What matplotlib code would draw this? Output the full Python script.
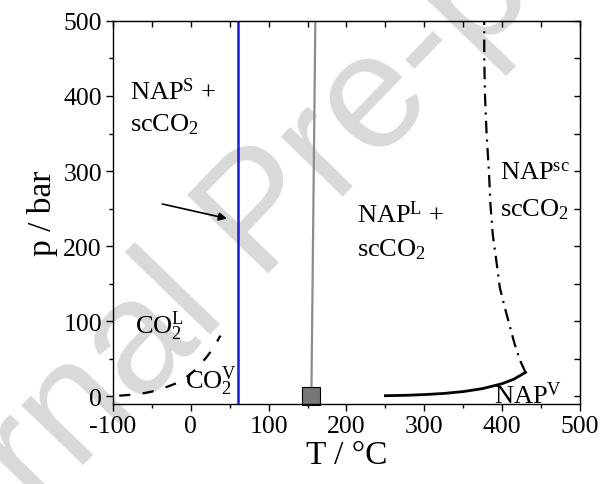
import numpy as np
import matplotlib
matplotlib.use("Agg")
import matplotlib.pyplot as plt

plt.rcParams['font.family'] = ['Liberation Serif', 'DejaVu Serif']
plt.rcParams['mathtext.fontset'] = 'custom'
plt.rcParams['mathtext.rm'] = 'Liberation Serif'
plt.rcParams['mathtext.it'] = 'Liberation Serif:italic'
plt.rcParams['lines.scale_dashes'] = False
plt.rcParams['axes.unicode_minus'] = False

# CO2 vapour pressure curve (dashed)
co2_T = [-92, -80, -70, -60, -50, -40, -30, -20, -10, 0, 10, 20, 30, 38]
co2_p = [1, 2, 3, 4.5, 6.5, 9.5, 13, 17, 23, 30, 40, 52, 66, 81]

# NAP vapour pressure curve (solid)
nap_T = [250, 275, 300, 325, 350, 375, 400, 415, 430]
nap_p = [1, 1.5, 2.5, 4, 6.5, 10.5, 17, 23, 32]

# critical curve (dash-dot)
crit_T = [430, 423, 416, 410, 403, 397, 392, 388, 385, 383, 380, 378, 377, 377]
crit_p = [32, 48, 70, 93, 120, 145, 185, 215, 255, 300, 350, 400, 450, 500]

# melting line of NAP (grey) and process temperature (blue)
melt_T = [155, 160]
melt_p = [10, 500]
proc_T = 60
tp_T, tp_p = 154, 1

fig = plt.figure(figsize=(6.01, 4.85), dpi=100)
ax = fig.add_axes([0.188, 0.165, 0.777, 0.79])
ax.patch.set_alpha(0)

# watermark
fig.text(0.49, 0.49, 'Journal Pre-proof', fontsize=118, color='#d9d9d9',
         family='Liberation Sans', rotation=46, ha='center', va='baseline',
         rotation_mode='anchor', zorder=-1)

ax.plot(co2_T, co2_p, color='black', lw=1.6, dashes=(8, 9))
ax.plot(nap_T, nap_p, color='black', lw=2)
ax.plot(crit_T, crit_p, color='black', lw=1.6, dashes=(9, 4.5, 1.5, 4.5))
ax.axvline(proc_T, color='#1a1ad0', lw=1.8)
ax.plot(melt_T, melt_p, color='#8c8c8c', lw=1.6)
ax.plot(tp_T, tp_p, marker='s', ms=12.5, mfc='#777777', mec='black',
        mew=0.8, clip_on=False)

ax.annotate('', xy=(50, 236), xytext=(-40, 257),
            arrowprops=dict(arrowstyle='-|>', color='black', lw=1.2,
                            mutation_scale=12))

fs = 19
ax.text(-78, 396, r'NAP$^{\mathrm{S}}$ +', fontsize=fs)
ax.text(-78, 354, r'scCO$_2$', fontsize=fs)
ax.text(213, 233, r'NAP$^{\mathrm{L}}$ +', fontsize=fs)
ax.text(213, 188, r'scCO$_2$', fontsize=fs)
ax.text(397, 290, r'NAP$^{\mathrm{sc}}$', fontsize=fs)
ax.text(397, 241, r'scCO$_2$', fontsize=fs)
ax.text(-72, 84, r'CO$_2^{\mathrm{L}}$', fontsize=fs)
ax.text(-8, 11, r'CO$_2^{\mathrm{V}}$', fontsize=fs)
ax.text(390, -8, r'NAP$^{\mathrm{V}}$', fontsize=fs)

ax.set_xlim(-100, 500)
ax.set_ylim(-10, 500)
ax.set_xticks(np.arange(-100, 501, 100))
ax.set_xticks(np.arange(-50, 500, 100), minor=True)
ax.set_yticks(np.arange(0, 501, 100))
ax.set_yticks(np.arange(50, 500, 100), minor=True)
ax.tick_params(which='major', length=5, width=1, labelsize=18.5, pad=3)
ax.tick_params(which='minor', length=3, width=1)
for s in ax.spines.values():
    s.set_linewidth(1)

top = ax.secondary_xaxis('top')
top.set_xticks(np.arange(-100, 501, 50))
top.tick_params(direction='in', length=4, width=1, labeltop=False)
right = ax.secondary_yaxis('right')
right.set_yticks(np.arange(0, 501, 50))
right.tick_params(direction='in', length=4, width=1, labelright=False)

ax.set_xlabel('T / °C', fontsize=24, labelpad=2)
ax.set_ylabel('p / bar', fontsize=24, labelpad=4)

fig.savefig('out.png', dpi=100)
